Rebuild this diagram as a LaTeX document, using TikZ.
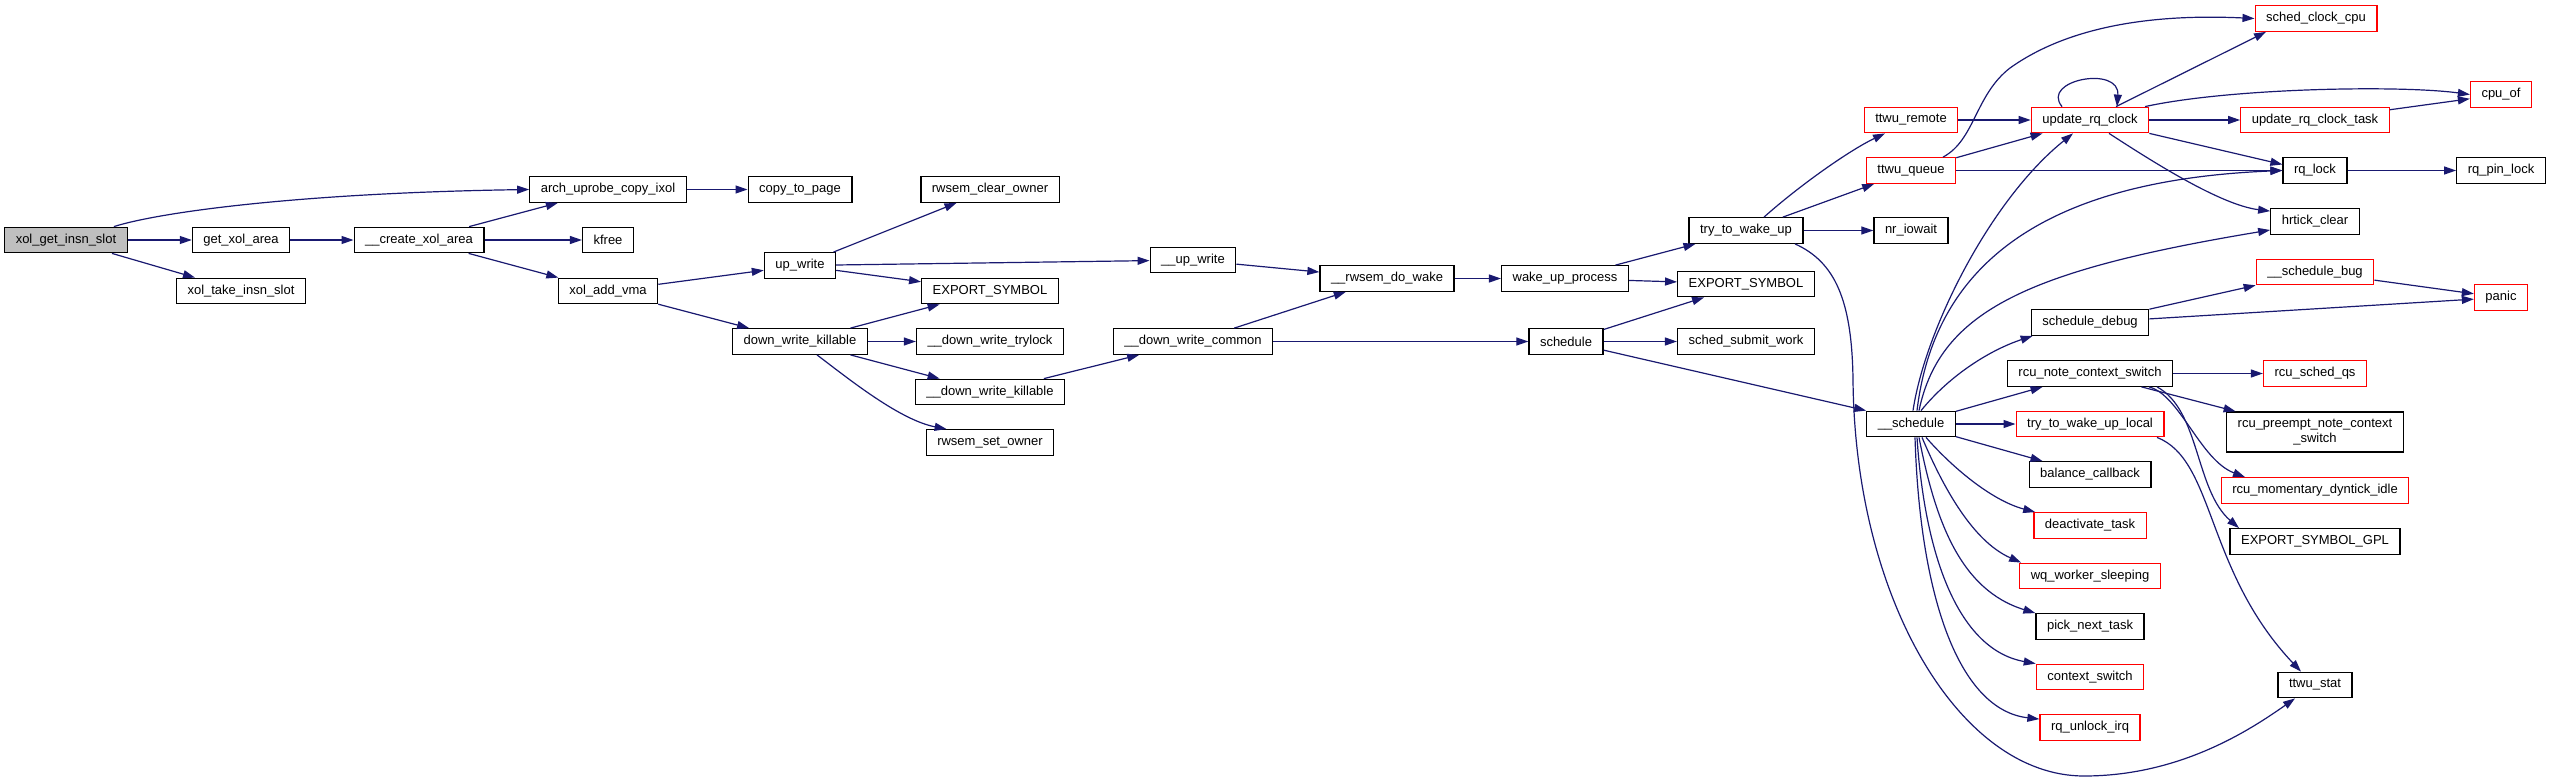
\documentclass[tikz,border=0pt]{standalone}
\usepackage{fontspec}
\setmainfont{Liberation Sans}
\usetikzlibrary{arrows.meta, calc}
\definecolor{callblue}{HTML}{191970}
\definecolor{rootgray}{HTML}{BFBFBF}
\definecolor{cutred}{HTML}{FF0000}
\tikzset{
  >={Triangle[length=12pt,width=8pt]},
  fn/.style={
    draw=#1, fill=white, line width=1.3pt, inner xsep=11pt, inner ysep=2pt,
    minimum height=25.5pt, align=center, font=\fontsize{13}{15}\selectfont
  },
  fn/.default=black,
  call/.style={->, draw=callblue, line width=1.2pt}
}

\begin{document}
\begin{tikzpicture}[x=1pt, y=1pt]
  \useasboundingbox (0,0) rectangle (2551,-781);

  % uprobe side
  \node[fn, fill=rootgray] (root) at (66,-240) {xol\_get\_insn\_slot};
  \node[fn] (getxol)   at (241,-240)   {get\_xol\_area};
  \node[fn] (take)     at (241,-291)   {xol\_take\_insn\_slot};
  \node[fn] (create)   at (419,-240)   {\_\_create\_xol\_area};
  \node[fn] (arch)     at (608,-189.5) {arch\_uprobe\_copy\_ixol};
  \node[fn] (kfree)    at (608,-240)   {kfree};
  \node[fn] (addvma)   at (608,-291)   {xol\_add\_vma};
  \node[fn] (copypage) at (800,-189.5) {copy\_to\_page};
  \node[fn] (upwrite)  at (800,-265.5) {up\_write};
  \node[fn] (downkill) at (800,-341.5) {down\_write\_killable};
  \node[fn] (clearown) at (990,-189.5) {rwsem\_clear\_owner};
  \node[fn] (export1)  at (990,-291)   {EXPORT\_SYMBOL};
  \node[fn] (trylock)  at (990,-341.5) {\_\_down\_write\_trylock};
  \node[fn] (ddownkill) at (990,-392)  {\_\_down\_write\_killable};
  \node[fn] (setown)   at (990,-442.5) {rwsem\_set\_owner};
  \node[fn] (uupwrite) at (1193,-260)  {\_\_up\_write};
  \node[fn] (common)   at (1193,-341.5) {\_\_down\_write\_common};
  \node[fn] (dowake)   at (1387,-278.5) {\_\_rwsem\_do\_wake};
  \node[fn] (wakeproc) at (1565,-278.5) {wake\_up\_process};
  \node[fn] (schedule) at (1566,-341.5) {schedule};
  \node[fn] (ttwu)     at (1746,-230.5) {try\_to\_wake\_up};
  \node[fn] (export2)  at (1746,-284)   {EXPORT\_SYMBOL};
  \node[fn] (submit)   at (1746,-341.5) {sched\_submit\_work};

  % scheduler side
  \node[fn=cutred] (remote) at (1911,-120)   {ttwu\_remote};
  \node[fn=cutred] (queue)  at (1911,-170.5) {ttwu\_queue};
  \node[fn] (iowait)        at (1911,-230.5) {nr\_iowait};
  \node[fn] (uschedule)     at (1911,-424)   {\_\_schedule};
  \node[fn=cutred] (rqclock)  at (2090,-120)   {update\_rq\_clock};
  \node[fn] (debug)           at (2090,-322.5) {schedule\_debug};
  \node[fn] (notecs)          at (2090,-373.5) {rcu\_note\_context\_switch};
  \node[fn=cutred] (localwake) at (2090,-424)  {try\_to\_wake\_up\_local};
  \node[fn] (balance)         at (2090,-474.5) {balance\_callback};
  \node[fn=cutred] (deact)    at (2090,-525.5) {deactivate\_task};
  \node[fn=cutred] (wqsleep)  at (2090,-576)   {wq\_worker\_sleeping};
  \node[fn] (picknext)        at (2090,-626.5) {pick\_next\_task};
  \node[fn=cutred] (ctxsw)    at (2090,-677)   {context\_switch};
  \node[fn=cutred] (unlock)   at (2090,-727.5) {rq\_unlock\_irq};
  \node[fn=cutred] (clockcpu) at (2316,-18.5)  {sched\_clock\_cpu};
  \node[fn=cutred] (clocktask) at (2315,-120)  {update\_rq\_clock\_task};
  \node[fn] (rqlock)          at (2315,-170.5) {rq\_lock};
  \node[fn] (hrtick)          at (2315,-221.5) {hrtick\_clear};
  \node[fn=cutred] (schedbug) at (2315,-272)   {\_\_schedule\_bug};
  \node[fn=cutred] (schedqs)  at (2315,-373.5) {rcu\_sched\_qs};
  \node[fn, minimum height=40pt] (preempt) at (2315,-432) {rcu\_preempt\_note\_context\\\_switch};
  \node[fn=cutred] (dyntick)  at (2315,-490.5) {rcu\_momentary\_dyntick\_idle};
  \node[fn] (gpl)             at (2315,-541.5) {EXPORT\_SYMBOL\_GPL};
  \node[fn] (stat)            at (2315,-685)   {ttwu\_stat};
  \node[fn=cutred] (cpuof)    at (2501,-94.5)  {cpu\_of};
  \node[fn] (pinlock)         at (2501,-170.5) {rq\_pin\_lock};
  \node[fn=cutred] (panic)    at (2501,-297.5) {panic};

  % straight calls
  \foreach \a/\b in {root/getxol, root/take, getxol/create, create/arch, create/kfree,
      create/addvma, arch/copypage, addvma/upwrite, addvma/downkill, upwrite/clearown,
      upwrite/uupwrite, upwrite/export1, downkill/export1, downkill/trylock,
      downkill/ddownkill, ddownkill/common, uupwrite/dowake, common/dowake,
      common/schedule, dowake/wakeproc, wakeproc/ttwu, wakeproc/export2,
      schedule/export2, schedule/submit, ttwu/queue, ttwu/iowait, remote/rqclock,
      queue/rqclock, queue/rqlock, rqclock/clocktask, clocktask/cpuof, rqlock/pinlock,
      schedbug/panic, debug/schedbug, debug/panic, notecs/schedqs, notecs/preempt,
      uschedule/notecs, uschedule/localwake, uschedule/balance}
    \draw[call] (\a) -- (\b);

  % curved calls
  \draw[call] ([xshift=-14pt]root.north east) .. controls (160,-212) and (300,-193) .. (arch.west);
  \draw[call] ([xshift=17pt]downkill.south) .. controls (850,-380) and (900,-420) .. ([xshift=21pt]setown.north west);
  \draw[call] (schedule) -- (uschedule.north west);
  \draw[call] ([xshift=18pt]ttwu.north) .. controls (1800,-185) and (1850,-150) .. ([xshift=-26pt]remote.south);
  \draw[call] ([xshift=49pt]ttwu.south) .. controls (1835,-262) and (1852,-300) .. (1853,-380)
    .. controls (1855,-600) and (1960,-776) .. (2084,-776)
    .. controls (2180,-776) and (2250,-730) .. ([xshift=-20pt]stat.south);
  \draw[call] ([xshift=32pt]queue.north) .. controls (1975,-140) and (1975,-95) .. (2010,-68)
    .. controls (2080,-18) and (2180,-15) .. (clockcpu.west);
  \draw[call] ([xshift=-28pt]rqclock.north) .. controls (2040,-80) and (2120,-65) .. ([xshift=27pt]rqclock.north);
  \draw[call] ([xshift=26pt]rqclock.north) -- ([xshift=-50pt]clockcpu.south);
  \draw[call] ([xshift=55pt]rqclock.north) .. controls (2230,-88) and (2400,-85) .. (cpuof.west);
  \draw[call] (rqclock.south east) -- ([yshift=6pt]rqlock.west);
  \draw[call] ([xshift=19pt]rqclock.south) .. controls (2150,-160) and (2220,-205) .. ([yshift=-3pt]hrtick.north west);
  \draw[call] ([xshift=59pt]notecs.south) .. controls (2180,-395) and (2200,-460) .. ([xshift=-70pt]dyntick.north);
  \draw[call] ([xshift=67pt]notecs.south) .. controls (2200,-410) and (2195,-490) .. ([xshift=-76pt]gpl.north);
  \draw[call] ([xshift=67pt]localwake.south) .. controls (2215,-460) and (2205,-570) .. ([xshift=-14pt]stat.north);

  % __schedule fan
  \draw[call] ([xshift=2pt]uschedule.north) .. controls (1925,-330) and (1990,-200) .. ([xshift=-17pt]rqclock.south);
  \draw[call] ([xshift=6pt]uschedule.north) .. controls (1935,-260) and (2050,-180) .. (rqlock.west);
  \draw[call] ([xshift=8pt]uschedule.north) .. controls (1940,-310) and (2030,-270) .. ([yshift=-8.5pt]hrtick.west);
  \draw[call] ([xshift=10pt]uschedule.north) .. controls (1950,-375) and (1990,-350) .. ([xshift=2pt]debug.south west);
  \draw[call] ([xshift=15pt]uschedule.south) .. controls (1950,-465) and (1990,-500) .. ([xshift=2pt]deact.north west);
  \draw[call] ([xshift=11pt]uschedule.south) .. controls (1940,-480) and (1970,-540) .. ([xshift=2pt]wqsleep.north west);
  \draw[call] ([xshift=8pt]uschedule.south) .. controls (1935,-520) and (1960,-590) .. (picknext.north west);
  \draw[call] ([xshift=6pt]uschedule.south) .. controls (1925,-560) and (1960,-650) .. (ctxsw.north west);
  \draw[call] ([xshift=4pt]uschedule.south) .. controls (1920,-600) and (1960,-710) .. ([yshift=-5pt]unlock.north west);
\end{tikzpicture}
\end{document}
